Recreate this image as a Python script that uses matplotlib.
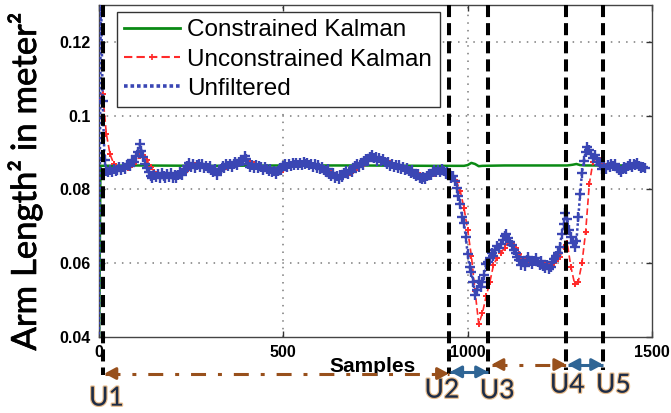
import numpy as np
import matplotlib
matplotlib.use("Agg")
import matplotlib.pyplot as plt
import matplotlib.transforms as mtransforms
import matplotlib.patheffects as pe
from matplotlib.lines import Line2D

# ---------------- data ----------------
# Unfiltered arm length^2, one reading every 5 samples (0 .. 1480)
unfiltered_step = 5
unfiltered = [
    0.038, 0.135, 0.104, 0.088, 0.0850, 0.0846, 0.0854, 0.0848, 0.0856, 0.0849,
    0.0853, 0.0860, 0.0852, 0.0861, 0.0855, 0.0866, 0.0870, 0.0864, 0.0880, 0.0875,
    0.0890, 0.0902, 0.0923, 0.0905, 0.0888, 0.0870, 0.0858, 0.0846, 0.0836, 0.0832,
    0.0840, 0.0834, 0.0843, 0.0831, 0.0845, 0.0837, 0.0830, 0.0842, 0.0835, 0.0844,
    0.0832, 0.0839, 0.0831, 0.0840, 0.0846, 0.0838, 0.0849, 0.0856, 0.0864, 0.0871,
    0.0862, 0.0869, 0.0858, 0.0865, 0.0870, 0.0862, 0.0868, 0.0859, 0.0864, 0.0857,
    0.0863, 0.0852, 0.0847, 0.0855, 0.0838, 0.0849, 0.0856, 0.0864, 0.0858, 0.0869,
    0.0863, 0.0870, 0.0861, 0.0868, 0.0874, 0.0866, 0.0875, 0.0881, 0.0876, 0.0890,
    0.0882, 0.0870, 0.0861, 0.0867, 0.0859, 0.0865, 0.0857, 0.0864, 0.0860, 0.0853,
    0.0862, 0.0856, 0.0849, 0.0855, 0.0846, 0.0851, 0.0843, 0.0849, 0.0858, 0.0852,
    0.0863, 0.0868, 0.0861, 0.0870, 0.0864, 0.0871, 0.0865, 0.0872, 0.0866, 0.0873,
    0.0867, 0.0874, 0.0868, 0.0872, 0.0865, 0.0870, 0.0862, 0.0868, 0.0859, 0.0865,
    0.0856, 0.0862, 0.0854, 0.0848, 0.0855, 0.0843, 0.0837, 0.0845, 0.0831, 0.0836,
    0.0828, 0.0840, 0.0833, 0.0844, 0.0849, 0.0841, 0.0852, 0.0846, 0.0857, 0.0863,
    0.0869, 0.0862, 0.0871, 0.0866, 0.0876, 0.0882, 0.0877, 0.0888, 0.0893, 0.0884,
    0.0889, 0.0878, 0.0885, 0.0876, 0.0883, 0.0874, 0.0868, 0.0875, 0.0864, 0.0870,
    0.0861, 0.0867, 0.0859, 0.0865, 0.0856, 0.0861, 0.0853, 0.0858, 0.0850, 0.0845,
    0.0852, 0.0842, 0.0836, 0.0843, 0.0832, 0.0827, 0.0834, 0.0829, 0.0837, 0.0843,
    0.0838, 0.0846, 0.0852, 0.0847, 0.0854, 0.0848, 0.0855, 0.0849, 0.0842, 0.0848,
    0.0839, 0.0831, 0.0836, 0.0824, 0.0805, 0.0782, 0.0760, 0.0725, 0.0708, 0.0670,
    0.0625, 0.0590, 0.0575, 0.0550, 0.0515, 0.0528, 0.0552, 0.0536, 0.0548, 0.0567,
    0.0598, 0.0603, 0.0615, 0.0628, 0.0620, 0.0635, 0.0646, 0.0640, 0.0652, 0.0663,
    0.0674, 0.0680, 0.0668, 0.0657, 0.0650, 0.0636, 0.0629, 0.0617, 0.0608, 0.0596,
    0.0605, 0.0593, 0.0609, 0.0618, 0.0606, 0.0598, 0.0607, 0.0615, 0.0602, 0.0594,
    0.0606, 0.0592, 0.0586, 0.0595, 0.0583, 0.0591, 0.0604, 0.0612, 0.0620, 0.0629,
    0.0645, 0.0678, 0.0705, 0.0736, 0.0720, 0.0690, 0.0672, 0.0655, 0.0643, 0.0660,
    0.0725, 0.0788, 0.0845, 0.0878, 0.0902, 0.0916, 0.0908, 0.0895, 0.0886, 0.0893,
    0.0882, 0.0874, 0.0865, 0.0856, 0.0863, 0.0855, 0.0866, 0.0860, 0.0869, 0.0863,
    0.0868, 0.0859, 0.0852, 0.0848, 0.0855, 0.0862, 0.0856, 0.0864, 0.0869, 0.0862,
    0.0870, 0.0865, 0.0873, 0.0864, 0.0858, 0.0862, 0.0857,
]

# Unconstrained Kalman estimate, one value every 10 samples (0 .. 1480)
unconstrained_step = 10
unconstrained = [
    0.1040, 0.1060, 0.0950, 0.0895, 0.0870, 0.0858, 0.0854, 0.0855, 0.0859, 0.0866,
    0.0875, 0.0890, 0.0894, 0.0880, 0.0862, 0.0848, 0.0840, 0.0838, 0.0836, 0.0837,
    0.0836, 0.0835, 0.0839, 0.0845, 0.0854, 0.0862, 0.0865, 0.0865, 0.0864, 0.0862,
    0.0860, 0.0854, 0.0849, 0.0850, 0.0856, 0.0862, 0.0865, 0.0869, 0.0871, 0.0877,
    0.0882, 0.0876, 0.0868, 0.0863, 0.0860, 0.0859, 0.0855, 0.0850, 0.0847, 0.0848,
    0.0854, 0.0860, 0.0865, 0.0868, 0.0869, 0.0870, 0.0870, 0.0869, 0.0866, 0.0862,
    0.0859, 0.0856, 0.0851, 0.0845, 0.0839, 0.0833, 0.0834, 0.0839, 0.0845, 0.0851,
    0.0859, 0.0865, 0.0870, 0.0876, 0.0883, 0.0887, 0.0885, 0.0881, 0.0876, 0.0871,
    0.0867, 0.0863, 0.0860, 0.0857, 0.0853, 0.0849, 0.0843, 0.0838, 0.0833, 0.0834,
    0.0838, 0.0843, 0.0848, 0.0850, 0.0849, 0.0844, 0.0835, 0.0820, 0.0795, 0.0750,
    0.0690, 0.0620, 0.0525, 0.0435, 0.0465, 0.0510, 0.0548, 0.0595, 0.0615, 0.0628,
    0.0642, 0.0658, 0.0656, 0.0642, 0.0625, 0.0612, 0.0602, 0.0603, 0.0604, 0.0605,
    0.0602, 0.0596, 0.0592, 0.0596, 0.0605, 0.0616, 0.0645, 0.0655, 0.0590, 0.0545,
    0.0550, 0.0600, 0.0685, 0.0815, 0.0875, 0.0885, 0.0880, 0.0870, 0.0864, 0.0864,
    0.0865, 0.0860, 0.0854, 0.0856, 0.0862, 0.0866, 0.0868, 0.0863, 0.0860,
]

# Constrained Kalman estimate (nearly flat)
constrained_samples = [0, 4, 100, 300, 500, 700, 900, 990, 1000, 1010, 1020, 1030,
                       1040, 1100, 1200, 1270, 1285, 1295, 1305, 1320, 1400, 1480]
constrained = [0.035, 0.0864, 0.0865, 0.0864, 0.0865, 0.0865, 0.0864, 0.0864,
               0.0866, 0.0872, 0.0869, 0.0863, 0.0864, 0.0865, 0.0865, 0.0865,
               0.0867, 0.0869, 0.0866, 0.0865, 0.0865, 0.0865]

# Phase boundaries (sample index) and their names
phase_bounds = [10, 949, 1055, 1267, 1367]
phase_names = ["U1", "U2", "U3", "U4", "U5"]

series_labels = ["Constrained Kalman", "Unconstrained Kalman", "Unfiltered"]
x_ticks = [0, 500, 1000, 1500]
x_tick_labels = ["0", "500", "1000", "1500"]
y_ticks = [0.04, 0.06, 0.08, 0.1, 0.12]
y_tick_labels = ["0.04", "0.06", "0.08", "0.1", "0.12"]

# ---------------- styling ----------------
GREEN = "#0a8a14"
RED = "#ff2a2a"
BLUE = "#3a46b4"
BROWN = "#98501c"
STEEL = "#2f6595"
NAVY = "#1c2c48"

fig = plt.figure(figsize=(6.71, 4.13), dpi=100)
ax = fig.add_axes([99 / 671, 76 / 413, 553 / 671, 332 / 413])

ax.set_xlim(0, 1500)
ax.set_ylim(0.04, 0.13)

# dotted grid
for yv in y_ticks[1:]:
    ax.axhline(yv, color="#7a7a7a", lw=1.1, ls=(0, (1, 4)), zorder=0)
for xv in x_ticks[1:-1]:
    ax.axvline(xv, color="#7a7a7a", lw=1.1, ls=(0, (1, 4)), zorder=0)

unf_x = np.arange(len(unfiltered)) * unfiltered_step
unc_x = np.arange(len(unconstrained)) * unconstrained_step

ax.plot(constrained_samples, constrained, color=GREEN, lw=1.8, zorder=2)
ax.plot(unc_x, unconstrained, color=RED, lw=1.2, ls=(0, (4, 2)),
        marker="+", ms=4, mew=1.4, zorder=3)
ax.plot(unf_x, unfiltered, color=BLUE, lw=1.8, ls=(0, (1, 1)),
        marker="+", ms=7, mew=1.7, zorder=4)

# axes cosmetics
ax.set_xticks(x_ticks)
ax.set_xticklabels(x_tick_labels)
ax.set_yticks(y_ticks)
ax.set_yticklabels(y_tick_labels)
ax.tick_params(direction="in", length=4, width=1, colors="#333333",
               top=True, right=True, pad=6)
for lab in ax.get_xticklabels() + ax.get_yticklabels():
    lab.set_fontfamily("Liberation Sans")
    lab.set_fontweight("bold")
    lab.set_fontsize(11.5)
    lab.set_color("black")
for sp in ax.spines.values():
    sp.set_color("#444444")
    sp.set_linewidth(1.0)

ax.text(0.495, -0.09, "Samples", transform=ax.transAxes, ha="center", va="center",
        fontfamily="Liberation Sans", fontweight="bold", fontsize=15)

fig.text(25 / 671, 1 - 181 / 413, "Arm Length² in meter²", rotation=90,
         ha="center", va="center", fontfamily="Lato", fontsize=25,
         path_effects=[pe.withStroke(linewidth=0.5, foreground="black")])

# legend
handles = [
    Line2D([], [], color=GREEN, lw=2),
    Line2D([], [], color=RED, lw=1.5, ls=(0, (4, 2)), marker="+", ms=4, mew=1.2),
    Line2D([], [], color=BLUE, lw=2.6, ls=(0, (1, 0.8))),
]
leg = ax.legend(handles, series_labels, loc="upper left",
                bbox_to_anchor=(0.0325, 0.979), prop={"family": "Liberation Sans", "size": 17.5},
                frameon=True, fancybox=False, framealpha=1, edgecolor="#333333",
                handlelength=2.3, handletextpad=0.3, borderpad=0.3,
                labelspacing=0.3, borderaxespad=0, numpoints=1)
leg.get_frame().set_linewidth(1.0)
leg.set_zorder(5)

# phase boundary lines, extending below the axes
blend = mtransforms.blended_transform_factory(ax.transData, ax.transAxes)
line_bottoms = [-0.114, -0.11, -0.11, -0.1, -0.1]
for xb, yb in zip(phase_bounds, line_bottoms):
    ax.plot([xb, xb], [1.0, yb], transform=blend, color="black", lw=2.9,
            ls=(0, (3.0, 1.5)), clip_on=False, zorder=6)


def span_arrow(x1, x2, y, color, style):
    ax.plot([x1, x2], [y, y], transform=blend, color=color, lw=2.2, ls=style,
            clip_on=False, zorder=7, solid_capstyle="butt")
    head = dict(arrowstyle="-|>,head_length=0.65,head_width=0.35", color=color,
                lw=2.2, shrinkA=0, shrinkB=0)
    span = x2 - x1
    d = min(20, span * 0.3)
    ax.annotate("", xy=(x1, y), xytext=(x1 + d, y), xycoords=blend,
                textcoords=blend, arrowprops=head, annotation_clip=False, zorder=7)
    ax.annotate("", xy=(x2, y), xytext=(x2 - d, y), xycoords=blend,
                textcoords=blend, arrowprops=head, annotation_clip=False, zorder=7)


dashdot = (0, (4.9, 3.9, 1.3, 3.9))
span_arrow(phase_bounds[0] + 5, phase_bounds[1], -0.11, BROWN, dashdot)
span_arrow(phase_bounds[1] + 4, phase_bounds[2], -0.105, STEEL, "-")
span_arrow(phase_bounds[2] + 10, phase_bounds[3], -0.083, BROWN, dashdot)
span_arrow(phase_bounds[3] + 4, phase_bounds[4], -0.083, STEEL, "-")

# phase labels
label_pos = [(20, -0.184), (930, -0.16), (1080, -0.162), (1270, -0.145), (1395, -0.145)]
for name, (lx, ly) in zip(phase_names, label_pos):
    ax.text(lx, ly, name, transform=blend, ha="center", va="center",
            fontfamily="Lato", fontsize=19, color=NAVY, clip_on=False,
            path_effects=[pe.withStroke(linewidth=1.8, foreground="#d89040", alpha=0.6)])

fig.savefig("out.png", dpi=100)
